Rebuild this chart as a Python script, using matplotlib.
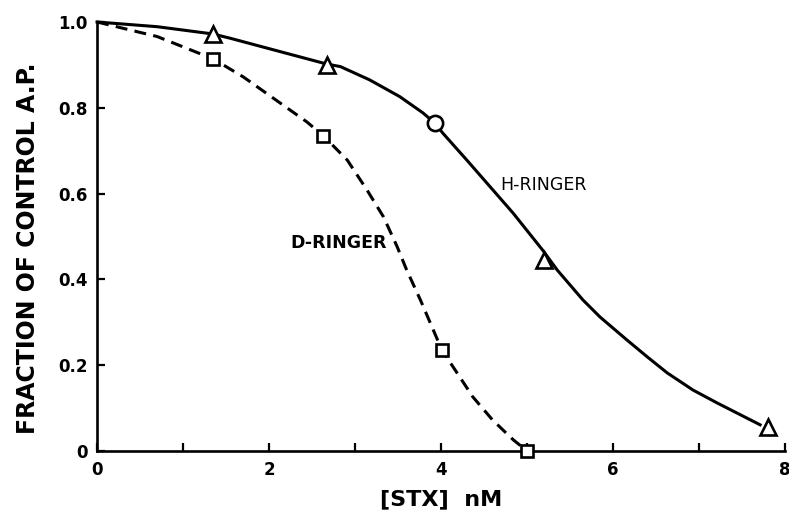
import matplotlib
matplotlib.use("Agg")
import matplotlib.pyplot as plt
from matplotlib.ticker import FixedLocator

# measured points (STX concentration in nM, fraction of control AP)
h_tri_x = [1.35, 2.67, 5.2, 7.8]
h_tri_y = [0.972, 0.90, 0.445, 0.056]
h_circ_x = [3.93]
h_circ_y = [0.764]
d_sq_x = [1.35, 2.63, 4.01, 5.0]
d_sq_y = [0.914, 0.735, 0.235, 0.0]

# hand drawn curves
h_curve_x = [0, 0.7, 1.35, 1.55, 2.24, 2.67, 2.83, 3.17, 3.52, 3.79, 3.93, 4.02,
             4.30, 4.57, 4.84, 5.19, 5.35, 5.65, 5.85, 6.16, 6.40, 6.63, 6.93, 7.21, 7.71]
h_curve_y = [1.0, 0.989, 0.972, 0.962, 0.925, 0.902, 0.896, 0.865, 0.826, 0.788, 0.764, 0.741,
             0.678, 0.616, 0.554, 0.466, 0.422, 0.352, 0.312, 0.259, 0.219, 0.182, 0.142, 0.112, 0.061]
d_curve_x = [0, 0.7, 1.35, 1.70, 2.13, 2.44, 2.63, 2.91, 3.14, 3.33, 3.49, 3.60, 3.76,
             3.91, 4.01, 4.14, 4.37, 4.60, 4.84, 5.0]
d_curve_y = [1.0, 0.966, 0.914, 0.872, 0.811, 0.767, 0.735, 0.678, 0.608, 0.546, 0.476, 0.422, 0.352,
             0.282, 0.235, 0.196, 0.126, 0.072, 0.026, 0.0]

x_ticks = [0, 2, 4, 6, 8]
x_minor = [1, 3, 5, 7]
y_ticks = [0, 0.2, 0.4, 0.6, 0.8, 1.0]
y_labels = ["0", "0.2", "0.4", "0.6", "0.8", "1.0"]

plt.rcParams['font.family'] = ['DejaVu Sans']

fig = plt.figure(figsize=(7.89, 5.21), dpi=100)
ax = fig.add_axes([0.123, 0.1344, 0.872, 0.8234])

lw = 2.2
ax.plot(h_curve_x, h_curve_y, '-', color='black', lw=lw, zorder=2, clip_on=False)
ax.plot(d_curve_x, d_curve_y, color='black', lw=lw, dashes=(3.9, 2.4), zorder=2, clip_on=False)

mk = dict(color='black', markerfacecolor='white', markeredgewidth=1.9,
          linestyle='none', zorder=3, clip_on=False)
ax.plot(h_tri_x, h_tri_y, marker='^', markersize=12, **mk)
ax.plot(h_circ_x, h_circ_y, marker='o', markersize=11, **mk)
ax.plot(d_sq_x, d_sq_y, marker='s', markersize=8, **mk)

ax.text(4.69, 0.62, "H-RINGER", fontsize=12.5, va='center', ha='left')
ax.text(2.81, 0.484, "D-RINGER", fontsize=12.5, fontweight='bold', va='center', ha='center')

ax.set_xlim(0, 8)
ax.set_ylim(0, 1.0)
ax.set_xticks(x_ticks)
ax.xaxis.set_minor_locator(FixedLocator(x_minor))
ax.set_yticks(y_ticks)
ax.set_yticklabels(y_labels)
for lab in ax.get_xticklabels() + ax.get_yticklabels():
    lab.set_fontweight('bold')
    lab.set_fontsize(12)

ax.tick_params(which='both', direction='in', length=6, width=1.6, pad=7)
for s in ['top', 'right']:
    ax.spines[s].set_visible(False)
for s in ['left', 'bottom']:
    ax.spines[s].set_linewidth(1.9)

ax.set_xlabel("[STX]  nM", fontsize=16, fontweight='bold', labelpad=8)
ax.set_ylabel("FRACTION OF CONTROL A.P.", fontsize=17, fontweight='bold')
ax.yaxis.set_label_coords(-0.083, 0.473)

fig.savefig("out.png", dpi=100)
